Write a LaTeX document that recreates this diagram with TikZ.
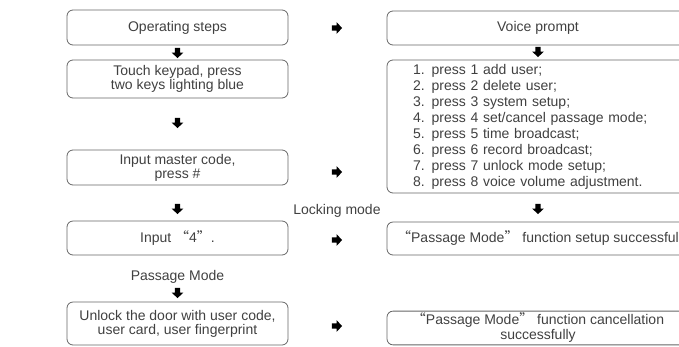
\documentclass[tikz,border=0pt]{standalone}
\usepackage{fontspec}
\setmainfont{Liberation Sans}
\newfontfamily\cjk{Noto Sans CJK SC}
\definecolor{boxgray}{HTML}{666666}
\definecolor{txtgray}{HTML}{404040}
\tikzset{
  box/.style={draw=boxgray, line width=0.8pt, rounded corners=6pt, text=txtgray,
    font=\fontsize{14}{14}\selectfont, align=center, inner sep=2pt},
  lbox/.style={box, minimum width=221pt},
  rbox/.style={box, minimum width=302pt},
  lbl/.style={text=txtgray, font=\fontsize{14}{14}\selectfont, inner sep=1pt},
  downarrow/.pic={\fill[black] (-2.7,-5.2) -- (2.7,-5.2) -- (2.7,-0.5) -- (5.8,-0.5) -- (0,5.2) -- (-5.8,-0.5) -- (-2.7,-0.5) -- cycle;},
  rightarrow/.pic={\fill[black] (-5.2,-2.7) -- (-5.2,2.7) -- (-0.5,2.7) -- (-0.5,5.8) -- (5.2,0) -- (-0.5,-5.8) -- (-0.5,-2.7) -- cycle;}
}
\begin{document}
\begin{tikzpicture}[x=1pt,y=-1pt]
\useasboundingbox (0,0) rectangle (679,346);
\clip (0,0) rectangle (679,346);
% left column
\node[lbox, minimum height=35pt] (op) at (177.5,27.5) {Operating steps};
\node[lbox, minimum height=38pt] (touch) at (177.5,79) {Touch keypad, press\\two keys lighting blue};
\node[lbox, minimum height=35pt] (master) at (177.5,167.5) {Input master code,\\press \#};
\node[lbox, minimum height=34pt] (four) at (177.5,238) {Input {\cjk “}4{\cjk ”}.};
\node[lbl] (pm) at (177.5,277) {Passage Mode};
\node[lbox, minimum height=43pt] (unlock) at (177.5,323.5) {Unlock the door with user code,\\user card, user fingerprint};
% right column
\node[rbox, minimum height=34pt] (voice) at (538,28) {Voice prompt};
\node[rbox, minimum height=133pt, align=left, text width=250pt, inner xsep=26pt,
  font=\fontsize{14}{16}\selectfont] (list) at (538,126.5) {1. press 1 add user;\\
2. press 2 delete user;\\
3. press 3 system setup;\\
4. press 4 set/cancel passage mode;\\
5. press 5 time broadcast;\\
6. press 6 record broadcast;\\
7. press 7 unlock mode setup;\\
8. press 8 voice volume adjustment.};
\node[rbox, minimum height=33pt] (setup) at (538,238.5) {{\cjk “}Passage Mode{\cjk ”} function setup successful};
\node[rbox, minimum height=32pt, font=\fontsize{14}{15}\selectfont] (cancel) at (538,328) {{\cjk “}Passage Mode{\cjk ”} function cancellation\\successfully};
\node[lbl] (lock) at (337,211) {Locking mode};
% arrows
\pic at (177.5,53) {downarrow};
\pic at (177.5,123) {downarrow};
\pic at (177.5,209) {downarrow};
\pic at (177.5,293) {downarrow};
\pic at (538,52) {downarrow};
\pic at (538,209) {downarrow};
\pic at (337,28) {rightarrow};
\pic at (337,172) {rightarrow};
\pic at (337,240) {rightarrow};
\pic at (337,326) {rightarrow};
\end{tikzpicture}
\end{document}
